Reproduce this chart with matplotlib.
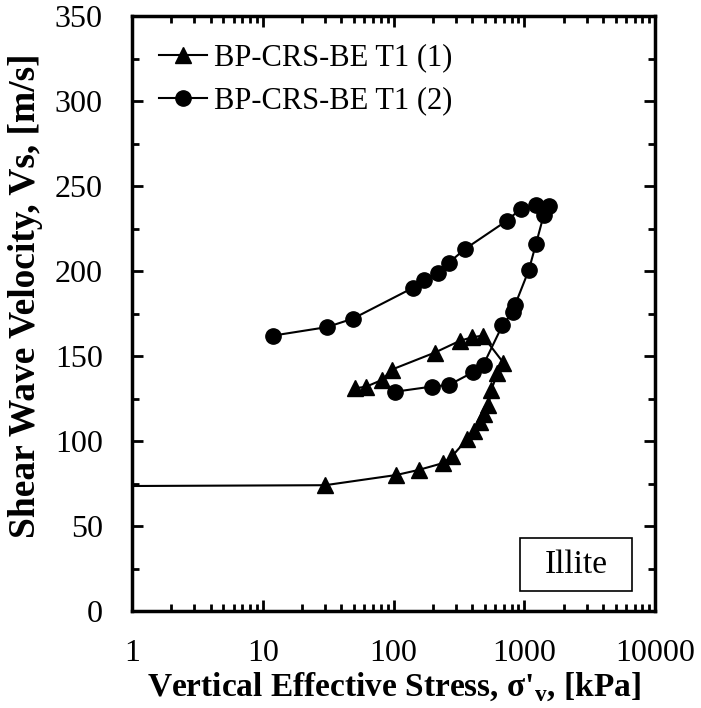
import numpy as np
import matplotlib
matplotlib.use("Agg")
import matplotlib.pyplot as plt
from matplotlib.patches import Rectangle
from matplotlib.ticker import FuncFormatter, MultipleLocator, LogLocator

plt.rcParams['font.family'] = ['Liberation Serif', 'DejaVu Serif']
plt.rcParams['mathtext.fontset'] = 'custom'
plt.rcParams['mathtext.rm'] = 'Liberation Serif'
plt.rcParams['mathtext.bf'] = 'Liberation Serif:bold'

# BP-CRS-BE T1 (1) - triangles
s1_stress = [0.8, 30, 105, 156, 239, 280, 365, 415, 460, 495, 532, 560, 624, 693,
             480, 400, 323, 207, 97, 82, 62, 51]
s1_vs = [73.5, 74, 80, 83, 87, 91, 101, 106, 111, 116, 121, 130, 140, 146,
         162, 161, 159, 152, 142, 136, 132, 131]

# BP-CRS-BE T1 (2) - circles
s2_stress = [12, 31, 49, 140, 170, 218, 266, 353, 733, 940, 1230, 1550, 1410,
             1230, 1083, 850, 815, 680, 488, 407, 266, 196, 103]
s2_vs = [162, 167, 172, 190, 194.5, 199, 205, 213, 229.5, 236.5, 239, 238, 233,
         216, 200.5, 180, 175.6, 168, 145, 140.5, 133, 132, 129]

fig = plt.figure(figsize=(7.01, 7.08), dpi=100)
ax = fig.add_axes([0.1883, 0.137, 0.7461, 0.8404])

ax.plot(s1_stress, s1_vs, color='black', lw=1.5, marker='^', ms=11,
        label='BP-CRS-BE T1 (1)')
ax.plot(s2_stress, s2_vs, color='black', lw=1.5, marker='o', ms=11,
        label='BP-CRS-BE T1 (2)')

ax.set_xscale('log')
ax.set_xlim(1, 10000)
ax.set_ylim(0, 350)
ax.xaxis.set_major_formatter(FuncFormatter(lambda v, p: '%g' % v))
ax.xaxis.set_minor_locator(LogLocator(base=10, subs=np.arange(2, 10)))
ax.xaxis.set_minor_formatter(FuncFormatter(lambda v, p: ''))
ax.yaxis.set_major_locator(MultipleLocator(50))
ax.yaxis.set_minor_locator(MultipleLocator(25))

ax.tick_params(which='both', direction='in', top=True, right=True,
               labelsize=23, width=2)
ax.tick_params(which='major', length=8)
ax.tick_params(which='minor', length=5)
ax.tick_params(axis='x', which='major', pad=20)
ax.tick_params(axis='y', which='major', pad=21)
for sp in ax.spines.values():
    sp.set_linewidth(2.5)

ax.set_xlabel("Vertical Effective Stress, σ'$_\\mathbf{v}$, [kPa]",
              fontsize=24, fontweight='bold', labelpad=2)
ax.set_ylabel("Shear Wave Velocity, Vs, [m/s]", fontsize=27,
              fontweight='bold')
ax.yaxis.set_label_coords(-0.17, 0.53)

ax.legend(loc='upper left', frameon=False, fontsize=22, handlelength=1.57,
          handletextpad=0.23, borderaxespad=0.5, borderpad=0.4,
          labelspacing=0.46)

# "Illite" label box
ax.add_patch(Rectangle((0.742, 0.034), 0.214, 0.089, transform=ax.transAxes,
                       fc='white', ec='black', lw=1.2, zorder=3))
ax.text(0.849, 0.078, 'Illite', transform=ax.transAxes, fontsize=24,
        ha='center', va='center', zorder=4)

fig.savefig('out.png', dpi=100)
